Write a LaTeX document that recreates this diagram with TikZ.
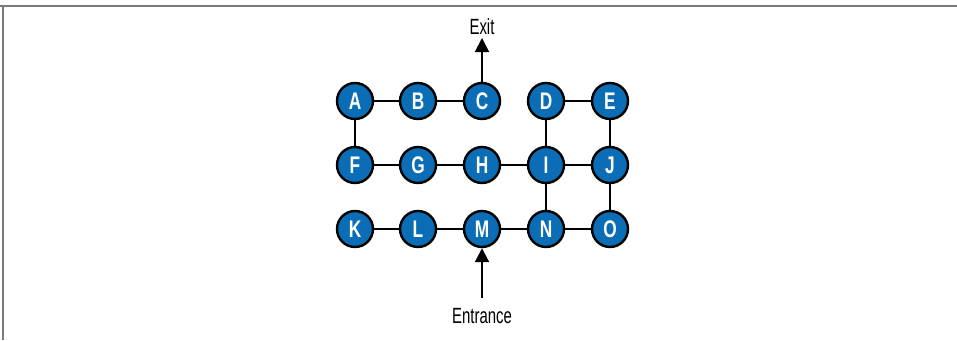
\documentclass[tikz,border=0pt]{standalone}
\usepackage{fontspec}
\setmainfont{Liberation Sans}
\newfontfamily\condfont[FakeStretch=0.72]{Liberation Sans}
\newfontfamily\signfont[FakeStretch=0.68]{Liberation Sans}
\usetikzlibrary{arrows.meta}
\definecolor{nodeblue}{HTML}{0A6DB5}
\definecolor{framegray}{HTML}{7A7A7A}
\tikzset{
  room/.style={circle,draw=black,line width=2.4pt,fill=nodeblue,minimum size=36pt,inner sep=0pt,
    text=white,font=\condfont\bfseries\fontsize{24}{24}\selectfont},
  link/.style={line width=2pt,black},
  sign/.style={font=\signfont\fontsize{22}{22}\selectfont,inner sep=0pt},
  arrowlink/.style={line width=2pt,black,-{Triangle[width=14pt,length=14pt]}}
}
\begin{document}
\begin{tikzpicture}[x=1pt,y=-1pt]
\useasboundingbox (0,0) rectangle (957,340);
\draw[framegray,line width=2pt] (0,5.5) -- (957,5.5);
\draw[framegray,line width=2pt] (3,5.5) -- (3,340);
\foreach \n/\x/\y in {A/355/101,B/418/101,C/482/101,D/546/101,E/610/101,
  F/355/165,G/418/165,H/482/165,I/546/165,J/610/165,
  K/355/229,L/418/229,M/482/229,N/546/229,O/610/229}
  \coordinate (p\n) at (\x,\y);
\foreach \a/\b in {A/B,B/C,A/F,D/E,D/I,E/J,F/G,G/H,H/I,I/J,I/N,J/O,K/L,L/M,M/N,N/O}
  \draw[link] (p\a) -- (p\b);
\foreach \n in {A,B,C,D,E,F,G,H,I,J,K,L,M,N,O}
  \node[room] (\n) at (p\n) {\n};
\node[sign] (exit) at (482,27) {Exit};
\node[sign] (entrance) at (482,316) {Entrance};
\coordinate (exittip) at (482,38);
\coordinate (enttail) at (482,298);
\draw[arrowlink] (C.north) -- (exittip);
\draw[arrowlink] (enttail) -- (M.south);
\end{tikzpicture}
\end{document}
